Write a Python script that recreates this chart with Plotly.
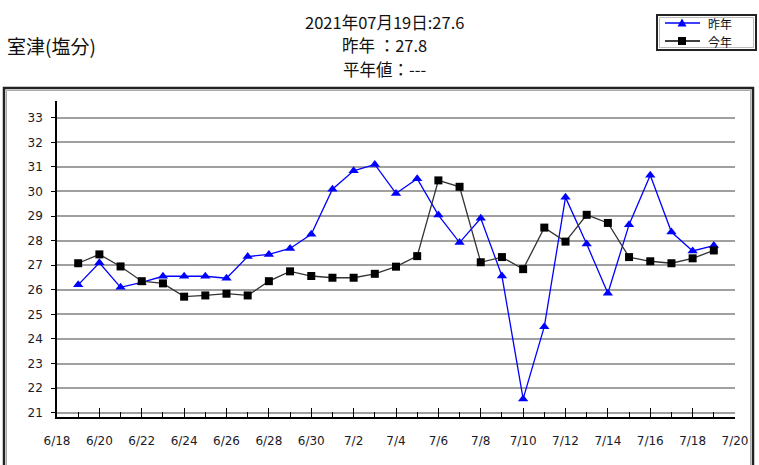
import plotly.graph_objects as go
import pandas as pd

dates = pd.date_range("2021-06-19", "2021-07-19", freq="D").strftime("%Y-%m-%d").tolist()

last_year = [26.2, 27.1, 26.1, 26.3, 26.55, 26.55, 26.55, 26.47, 27.35, 27.44, 27.68,
             28.26, 30.09, 30.84, 31.1, 29.92, 30.52, 29.04, 27.92, 28.91, 26.56,
             21.56, 24.5, 29.76, 27.86, 25.86, 28.65, 30.66, 28.35, 27.58, 27.8]
this_year = [27.08, 27.44, 26.95, 26.35, 26.26, 25.72, 25.77, 25.84, 25.77, 26.35, 26.75,
             26.56, 26.49, 26.49, 26.65, 26.94, 27.37, 30.45, 30.19, 27.12, 27.33,
             26.84, 28.53, 27.96, 29.05, 28.72, 27.33, 27.16, 27.08, 27.28, 27.6]

series_names = ["昨年", "今年"]
series_colors = ["#0000ff", "#000000"]
title_lines = ["2021年07月19日:27.6", "昨年 ：27.8", "平年値：---"]
station = "室津(塩分)"

W, H = 759, 465
L, R, T, B = 57, 24, 101, 48
pw, ph = W - L - R, H - T - B

def px_x(x):
    return (x - L) / pw

def px_y(y):
    return (H - B - y) / ph

fig = go.Figure()
fig.add_trace(go.Scatter(
    x=dates, y=last_year, name=series_names[0], mode="lines+markers",
    line=dict(color=series_colors[0], width=1.3),
    marker=dict(symbol="triangle-up", size=9, color=series_colors[0]),
))
fig.add_trace(go.Scatter(
    x=dates, y=this_year, name=series_names[1], mode="lines+markers",
    line=dict(color="#333333", width=1.3),
    marker=dict(symbol="square", size=8, color=series_colors[1]),
))

tickfont = dict(family="DejaVu Sans", size=12, color="#1a1a2a")
fig.update_xaxes(
    type="date", range=["2021-06-18", "2021-07-20"],
    dtick=2 * 86400000, tick0="2021-06-18", tickformat="%-m/%-d",
    ticks="inside", ticklen=9, tickwidth=1, tickcolor="#000",
    minor=dict(dtick=86400000, ticks="inside", ticklen=5, tickcolor="#000", showgrid=False),
    showline=True, linecolor="#000", linewidth=1.5,
    showgrid=False, zeroline=False, tickfont=tickfont, ticklabelstandoff=12,
)
fig.update_yaxes(
    range=[20.825, 33.68], dtick=1, tick0=21,
    ticks="outside", ticklen=4, tickcolor="#000",
    showline=True, linecolor="#000", linewidth=1.5,
    showgrid=True, gridcolor="#a0a0a0", gridwidth=1.5, zeroline=False,
    tickfont=tickfont, ticklabelstandoff=6,
)

shapes = []
# outer frame
shapes.append(dict(type="rect", xref="paper", yref="paper",
                   x0=px_x(4), x1=px_x(753), y0=px_y(88), y1=px_y(480),
                   line=dict(color="#222", width=2.5), layer="above"))
shapes.append(dict(type="rect", xref="paper", yref="paper",
                   x0=px_x(6.5), x1=px_x(750.5), y0=px_y(90.5), y1=px_y(480),
                   line=dict(color="#aaa", width=1), layer="above"))
# legend box
shapes.append(dict(type="rect", xref="paper", yref="paper",
                   x0=px_x(657), x1=px_x(756), y0=px_y(15), y1=px_y(50),
                   line=dict(color="#222", width=2), fillcolor="white", layer="above"))
shapes.append(dict(type="rect", xref="paper", yref="paper",
                   x0=px_x(659.5), x1=px_x(753.5), y0=px_y(17.5), y1=px_y(47.5),
                   line=dict(color="#bbb", width=1), layer="above"))
leg_y = [23, 41]
for i, yy in enumerate(leg_y):
    c = series_colors[i]
    shapes.append(dict(type="line", xref="paper", yref="paper",
                       x0=px_x(665), x1=px_x(700), y0=px_y(yy), y1=px_y(yy),
                       line=dict(color=c, width=1.3), layer="above"))
    if i == 0:
        path = "M {} {} L {} {} L {} {} Z".format(
            px_x(682), px_y(yy - 4.5), px_x(677.5), px_y(yy + 3.5), px_x(686.5), px_y(yy + 3.5))
        shapes.append(dict(type="path", xref="paper", yref="paper", path=path,
                           fillcolor=c, line=dict(color=c, width=0), layer="above"))
    else:
        shapes.append(dict(type="rect", xref="paper", yref="paper",
                           x0=px_x(678), x1=px_x(686), y0=px_y(yy - 4), y1=px_y(yy + 4),
                           fillcolor=c, line=dict(color=c, width=0), layer="above"))
fig.update_layout(shapes=shapes)

annotations = []
for i, t in enumerate(title_lines):
    annotations.append(dict(text=t, xref="paper", yref="paper", x=px_x(384), y=px_y(21.5 + i * 24),
                            xanchor="center", yanchor="middle", showarrow=False,
                            font=dict(family="Noto Sans CJK JP", size=16.5, color="#111")))
annotations.append(dict(text=station, xref="paper", yref="paper", x=px_x(5), y=px_y(46),
                        xanchor="left", yanchor="middle", showarrow=False,
                        font=dict(family="Noto Sans CJK JP", size=19, color="#111")))
for i, yy in enumerate(leg_y):
    annotations.append(dict(text=series_names[i], xref="paper", yref="paper", x=px_x(706), y=px_y(yy),
                            xanchor="left", yanchor="middle", showarrow=False,
                            font=dict(family="Noto Sans CJK JP", size=12, color="#111")))
fig.update_layout(annotations=annotations)

fig.update_layout(
    width=W, height=H,
    margin=dict(l=L, r=R, t=T, b=B),
    plot_bgcolor="white", paper_bgcolor="white",
    showlegend=False,
)

fig.write_html("out.html", config={"displayModeBar": False},
               post_script="document.body.style.margin='0px';")
